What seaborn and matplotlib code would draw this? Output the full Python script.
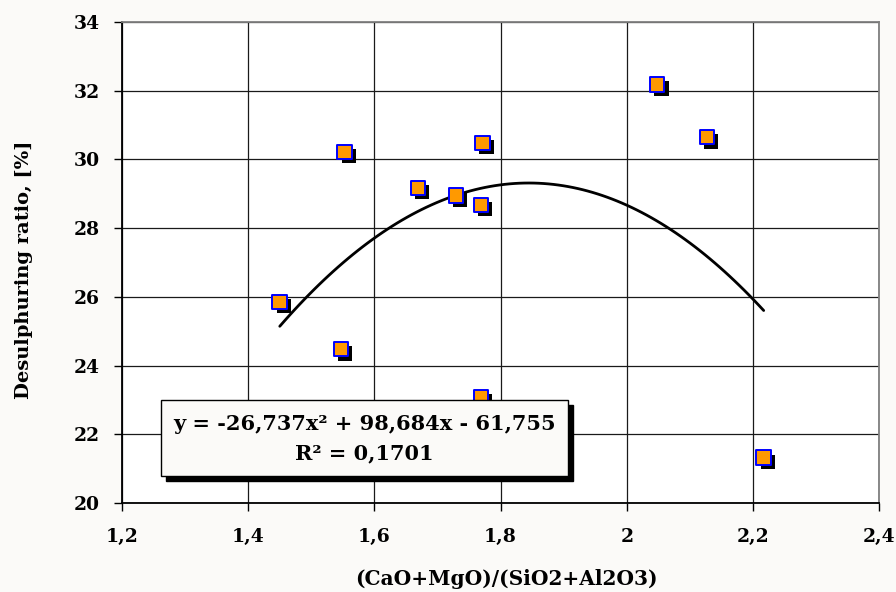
import matplotlib
matplotlib.use("Agg")
import matplotlib.pyplot as plt
import matplotlib.patheffects as pe
import matplotlib.transforms as mtransforms
from matplotlib.patches import Rectangle
import seaborn as sns
import pandas as pd

# ---- data ----
basicity = [1.45, 1.547, 1.553, 1.669, 1.729, 1.769, 1.771, 1.769, 2.048, 2.127, 2.217]
desulph = [25.85, 24.48, 30.22, 29.17, 28.95, 28.68, 30.48, 23.07, 32.18, 30.65, 21.32]

x_ticks = [1.2, 1.4, 1.6, 1.8, 2.0, 2.2, 2.4]
x_tick_labels = ["1,2", "1,4", "1,6", "1,8", "2", "2,2", "2,4"]
y_ticks = [20, 22, 24, 26, 28, 30, 32, 34]
y_tick_labels = ["20", "22", "24", "26", "28", "30", "32", "34"]

equation_text = "y = -26,737x² + 98,684x - 61,755"
r2_text = "R² = 0,1701"
x_label = "(CaO+MgO)/(SiO2+Al2O3)"
y_label = "Desulphuring ratio, [%]"

df = pd.DataFrame({"x": basicity, "y": desulph})

sns.set_theme(style="white")
plt.rcParams["font.family"] = ["DejaVu Serif"]
plt.rcParams["font.weight"] = "bold"
plt.rcParams["text.color"] = "black"
plt.rcParams["axes.labelcolor"] = "black"
plt.rcParams["xtick.color"] = "black"
plt.rcParams["ytick.color"] = "black"

bg = "#fbfaf8"
fig = plt.figure(figsize=(8.96, 5.92), dpi=100, facecolor=bg)
ax = fig.add_axes([0.1362, 0.1503, 0.845, 0.8125])
ax.set_facecolor("white")

# trend line (2nd order polynomial fitted by seaborn)
sns.regplot(data=df, x="x", y="y", order=2, ci=None, scatter=False, truncate=True,
            line_kws=dict(color="black", lw=2.0, zorder=3), ax=ax)

# markers with shadow
sns.scatterplot(data=df, x="x", y="y", marker="s", s=110, color="#ff9900",
                edgecolor="#0000ff", linewidth=1.4, zorder=4, ax=ax,
                path_effects=[pe.SimplePatchShadow(offset=(3, -3), shadow_rgbFace="black", alpha=1.0),
                              pe.Normal()])

ax.set_xlim(1.2, 2.4)
ax.set_ylim(20, 34)
ax.set_xticks(x_ticks)
ax.set_xticklabels(x_tick_labels, fontsize=13.5, fontweight="bold")
ax.set_yticks(y_ticks)
ax.set_yticklabels(y_tick_labels, fontsize=13.5, fontweight="bold")
ax.tick_params(axis="x", direction="out", length=6, width=1, color="black", pad=12, bottom=True)
ax.tick_params(axis="y", direction="out", length=6, width=1, color="black", pad=10, left=True)

ax.grid(True, color="#1a1a1a", lw=0.9)
ax.set_axisbelow(True)

for s in ["left", "bottom"]:
    ax.spines[s].set_color("black")
    ax.spines[s].set_linewidth(1.3)
for s in ["top", "right"]:
    ax.spines[s].set_color("#808080")
    ax.spines[s].set_linewidth(1.3)

ax.set_xlabel(x_label, fontsize=14.5, fontweight="bold")
ax.set_ylabel(y_label, fontsize=14, fontweight="bold")
ax.xaxis.label.set_verticalalignment("center")
ax.xaxis.set_label_coords(0.507, -0.158)
ax.yaxis.set_label_coords(-0.118, 0.486)

# equation box with shadow
bx0, by0, bw, bh = 0.0515, 0.056, 0.5375, 0.158
shadow = Rectangle((bx0, by0), bw, bh, facecolor="black", edgecolor="black", zorder=5)
shadow.set_transform(ax.transAxes + mtransforms.ScaledTranslation(5 / 100, -5 / 100, fig.dpi_scale_trans))
ax.add_patch(shadow)
box = Rectangle((bx0, by0), bw, bh, transform=ax.transAxes, facecolor=bg,
                edgecolor="black", lw=1.0, zorder=6)
ax.add_patch(box)
ax.text(bx0 + bw / 2, by0 + bh * 0.69, equation_text, transform=ax.transAxes,
        ha="center", va="center", fontsize=15, fontweight="bold", zorder=7)
ax.text(bx0 + bw / 2, by0 + bh * 0.30, r2_text, transform=ax.transAxes,
        ha="center", va="center", fontsize=15, fontweight="bold", zorder=7)

fig.savefig("out.png", dpi=100, facecolor=bg)
